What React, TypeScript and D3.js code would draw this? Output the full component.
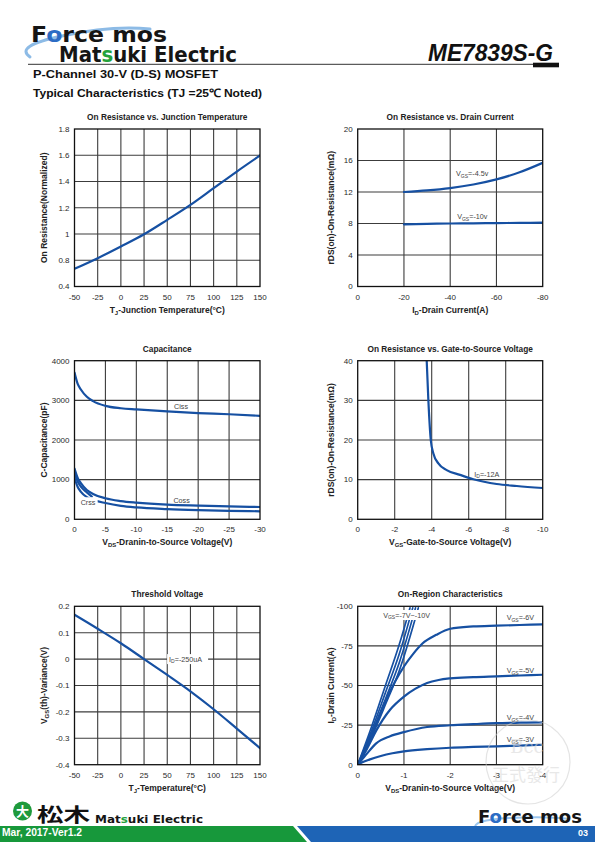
import React from 'react';
import * as d3 from 'd3';

const FONT = "'Liberation Sans', Arial, Helvetica, sans-serif";
const CURVE_BLUE = '#1650a2';
const GRID = '#3c3c3c';
const TEXT = '#2a2a2a';

type Part = [string, boolean?];

// ---------- 1. On Resistance vs. Junction Temperature ----------
const tjTemps = [-50, -25, 0, 25, 50, 75, 100, 125, 150];
const rdsNormalized = [0.735, 0.816, 0.905, 0.998, 1.108, 1.222, 1.349, 1.476, 1.598];
const tempTicks = [-50, -25, 0, 25, 50, 75, 100, 125, 150];
const rdsNormTicks = [0.6, 0.8, 1, 1.2, 1.4, 1.6, 1.8];
const rdsNormTickLabels = ['0.4', '0.8', '1', '1.2', '1.4', '1.6', '1.8'];

// ---------- 2. On Resistance vs. Drain Current ----------
const drainCurrents = [-20, -30, -40, -50, -60, -70, -80];
const rdsAtVgs45 = [12.0, 12.2, 12.5, 12.95, 13.6, 14.5, 15.7];
const rdsAtVgs10 = [7.9, 7.95, 8.0, 8.02, 8.05, 8.08, 8.1];
const drainCurrentTicks = [0, -20, -40, -60, -80];
const rdsIdTicks = [0, 4, 8, 12, 16, 20];

// ---------- 3. Capacitance ----------
const capVds = [0, -0.5, -1, -2, -3, -5, -7.5, -10, -15, -20, -25, -30];
const ciss = [3700, 3420, 3280, 3090, 2980, 2860, 2800, 2770, 2720, 2680, 2650, 2610];
const coss = [1280, 1050, 920, 740, 640, 530, 460, 420, 370, 345, 325, 310];
const crss = [1050, 820, 700, 560, 490, 410, 340, 300, 258, 232, 214, 202];
const crssLeadVds = [0, -0.5, -1, -2, -2.8];
const crssLead = [1180, 960, 830, 680, 570];
const capVdsTicks = [0, -5, -10, -15, -20, -25, -30];
const capTicks = [0, 1000, 2000, 3000, 4000];

// ---------- 4. On Resistance vs. Gate-to-Source Voltage ----------
const gateVoltages = [-3.73, -3.82, -3.95, -4.09, -4.36, -4.81, -5.53, -6.25, -7.51, -8.6, -10];
const rdsVsVgs = [40, 30, 20, 16.6, 14.1, 12.4, 11.2, 10.1, 8.9, 8.4, 7.9];
const gateTicks = [0, -2, -4, -6, -8, -10];
const rdsVgsTicks = [0, 10, 20, 30, 40];

// ---------- 5. Threshold Voltage ----------
const thTemps = [-50, -25, 0, 25, 50, 75, 100, 125, 150];
const vthVariance = [0.168, 0.115, 0.06, 0.0, -0.06, -0.122, -0.19, -0.263, -0.337];
const vthTicks = [-0.4, -0.3, -0.2, -0.1, 0, 0.1, 0.2];

// ---------- 6. On-Region Characteristics ----------
const vds3 = [0, -0.1, -0.25, -0.5, -0.75, -1, -1.5, -2, -2.5, -3, -3.5, -4];
const id3 = [0, -1.5, -3.2, -5.5, -7.2, -8.4, -9.8, -10.7, -11.2, -11.6, -12.1, -12.6];
const vds4 = [0, -0.1, -0.2, -0.4, -0.7, -1, -1.5, -2, -2.5, -3, -3.5, -4];
const id4 = [0, -3.5, -7, -13.5, -18, -20.6, -23.8, -24.9, -25.6, -26.2, -26.5, -26.7];
const vds5 = [0, -0.2, -0.4, -0.7, -1, -1.25, -1.5, -1.75, -2, -2.5, -3, -3.5, -4];
const id5 = [0, -10, -21.5, -34.7, -43, -48, -51.6, -53.5, -54.5, -55.3, -55.8, -56.3, -56.8];
const vds6 = [0, -0.2, -0.4, -0.6, -0.8, -1, -1.2, -1.4, -1.7, -2, -2.5, -3, -3.5, -4];
const id6 = [0, -12, -26, -40, -52, -62, -70, -76.5, -82, -85.8, -87.3, -87.8, -88.2, -88.6];
const vds7 = [0, -0.3, -0.6, -0.9, -1.31];
const id7 = [0, -17.5, -38, -59.5, -99];
const vds8 = [0, -0.3, -0.6, -0.9, -1.25];
const id8 = [0, -19.5, -41.5, -64.5, -99];
const vds9 = [0, -0.3, -0.6, -0.9, -1.19];
const id9 = [0, -21.5, -45.5, -70, -99];
const vds10 = [0, -0.3, -0.6, -0.9, -1.13];
const id10 = [0, -24, -50, -76, -99];
const onVdsTicks = [0, -1, -2, -3, -4];
const onIdTicks = [0, -25, -50, -75, -100];

// ---------- texts ----------
const titles = [
  'On Resistance vs. Junction Temperature',
  'On Resistance vs. Drain Current',
  'Capacitance',
  'On Resistance vs. Gate-to-Source Voltage',
  'Threshold Voltage',
  'On-Region Characteristics',
];
const xLabels: Part[][] = [
  [['T'], ['J', true], ['-Junction Temperature(°C)']],
  [['I'], ['D', true], ['-Drain Current(A)']],
  [['V'], ['DS', true], ['-Dranin-to-Source Voltage(V)']],
  [['V'], ['GS', true], ['-Gate-to-Source Voltage(V)']],
  [['T'], ['J', true], ['-Temperature(°C)']],
  [['V'], ['DS', true], ['-Dranin-to-Source Voltage(V)']],
];
const yLabels: Part[][] = [
  [['On Resistance(Normalized)']],
  [['rDS(on)-On-Resistance(mΩ)']],
  [['C-Capacitance(pF)']],
  [['rDS(on)-On-Resistance(mΩ)']],
  [['V'], ['GS', true], ['(th)-Variance(V)']],
  [['I'], ['D', true], ['-Drain Current(A)']],
];

interface SeriesDef { xs: number[]; ys: number[]; w?: number }
interface NoteDef { x: number; y: number; parts: Part[]; bg?: boolean; w?: number }
interface ChartProps {
  id: string;
  left: number; top: number; width: number; height: number;
  xDomain: [number, number]; yDomain: [number, number];
  xTicks: number[]; yTicks: number[]; yTickLabels?: string[];
  title: string; xLabel: Part[]; yLabel: Part[];
  series: SeriesDef[]; notes?: NoteDef[];
}

function spans(parts: Part[], size: number) {
  let shifted = false;
  return parts.map(([t, sub], i) => {
    let dy: number | undefined;
    if (sub && !shifted) { dy = size * 0.25; shifted = true; }
    else if (!sub && shifted) { dy = -size * 0.25; shifted = false; }
    return (
      <tspan key={i} fontSize={sub ? size * 0.7 : size} dy={dy}>{t}</tspan>
    );
  });
}

function Chart(p: ChartProps) {
  const x = d3.scaleLinear().domain(p.xDomain).range([p.left, p.left + p.width]);
  const y = d3.scaleLinear().domain(p.yDomain).range([p.top + p.height, p.top]);
  const line = d3.line<[number, number]>().x(d => x(d[0])).y(d => y(d[1])).curve(d3.curveMonotoneX);
  const bottom = p.top + p.height;
  const right = p.left + p.width;
  const innerX = p.xTicks.filter(t => t !== p.xDomain[0] && t !== p.xDomain[1]);
  const innerY = p.yTicks.filter(t => t !== p.yDomain[0] && t !== p.yDomain[1]);
  const tickSize = 8;
  const noteSize = 7.2;
  const labelSize = 8.5;
  return (
    <g fontFamily={FONT}>
      <defs>
        <clipPath id={p.id}>
          <rect x={p.left} y={p.top} width={p.width} height={p.height} />
        </clipPath>
      </defs>
      {innerX.map(t => (
        <line key={'gx' + t} x1={x(t)} x2={x(t)} y1={p.top} y2={bottom} stroke={GRID} strokeWidth={1.1} />
      ))}
      {innerY.map(t => (
        <line key={'gy' + t} x1={p.left} x2={right} y1={y(t)} y2={y(t)} stroke={GRID} strokeWidth={1.1} />
      ))}
      <g clipPath={`url(#${p.id})`}>
        {p.series.map((s, i) => (
          <path key={i} d={line(s.xs.map((v, j) => [v, s.ys[j]] as [number, number])) || ''}
            fill="none" stroke={CURVE_BLUE} strokeWidth={s.w || 2.2} strokeLinejoin="round" strokeLinecap="round" />
        ))}
      </g>
      {(p.notes || []).map((n, i) => {
        const nx = x(n.x);
        const ny = y(n.y);
        return (
          <g key={'n' + i}>
            {n.bg && <rect x={nx - 2} y={ny - 5} width={(n.w || 40) + 4} height={10} fill="#fff" />}
            <text x={nx} y={ny + noteSize * 0.36} fontSize={noteSize} fill="#444">{spans(n.parts, noteSize)}</text>
          </g>
        );
      })}
      <rect x={p.left} y={p.top} width={p.width} height={p.height} fill="none" stroke="#111" strokeWidth={1.3} />
      {p.xTicks.map(t => (
        <text key={'tx' + t} x={x(t)} y={bottom + 13} fontSize={tickSize} fill={TEXT} textAnchor="middle">{String(t)}</text>
      ))}
      {p.yTicks.map((t, i) => (
        <text key={'ty' + t} x={p.left - 5} y={y(t) + 2.8} fontSize={tickSize} fill={TEXT} textAnchor="end">
          {p.yTickLabels ? p.yTickLabels[i] : String(t)}
        </text>
      ))}
      <text x={(p.left + right) / 2} y={p.top - 9} fontSize={8.3} fontWeight="bold" fill="#222" textAnchor="middle">{p.title}</text>
      <text x={(p.left + right) / 2} y={bottom + 26} fontSize={labelSize} fontWeight="bold" fill="#222" textAnchor="middle">
        {spans(p.xLabel, labelSize)}
      </text>
      <text transform={`translate(${p.left - (p.left < 200 ? 28 : 24)},${(p.top + bottom) / 2}) rotate(-90)`}
        fontSize={labelSize} fontWeight="bold" fill="#222" textAnchor="middle">
        {spans(p.yLabel, labelSize)}
      </text>
    </g>
  );
}

const vgsNote = (v: string): Part[] => [['V'], ['GS', true], ['=' + v]];

export default function App() {
  const L = 74.5, R = 357.7, WL = 185.5, WR = 185;
  const T1 = 129, H1 = 157.5, T2 = 360.7, H2 = 158.6, T3 = 606.3, H3 = 158.4;
  return (
    <svg width={595} height={842} viewBox="0 0 595 842"
      style={{ position: 'absolute', left: 0, top: 0, background: '#fff' }} fontFamily={FONT}>
      <rect width={595} height={842} fill="#fff" />

      {/* ---------- header ---------- */}
      <path d="M 30 57 Q 14 46 62 36 Q 112 25 150 29" fill="none" stroke="#8dbbe6" strokeWidth={3} strokeLinecap="round" />
      <text x={31} y={42} fontSize={22} fontWeight="bold" fill="#151515" textLength={136} lengthAdjust="spacingAndGlyphs"
        fontFamily="'DejaVu Sans', sans-serif">
        F<tspan fill="#2c6cc4">o</tspan>rce mos
      </text>
      <text x={59} y={61.5} fontSize={21} fontWeight="bold" fill="#151515" textLength={178} lengthAdjust="spacingAndGlyphs"
        fontFamily="'DejaVu Sans', sans-serif">
        Mat<tspan fill="#24a23c">s</tspan>uki Electric
      </text>
      <text x={428} y={60.7} fontSize={23} fontWeight="bold" fontStyle="italic" fill="#111" textLength={125} lengthAdjust="spacingAndGlyphs">
        ME7839S-G
      </text>
      <line x1={28} x2={533} y1={64.3} y2={64.3} stroke="#333" strokeWidth={1} />
      <rect x={533} y={62.7} width={26} height={4.6} fill="#111" />
      <text x={33} y={77.5} fontSize={11.5} fontWeight="bold" fill="#111" textLength={185} lengthAdjust="spacingAndGlyphs">
        P-Channel 30-V (D-S) MOSFET
      </text>
      <text x={33} y={97} fontSize={11.5} fontWeight="bold" fill="#111" textLength={229} lengthAdjust="spacingAndGlyphs">
        Typical Characteristics (TJ =25℃ Noted)
      </text>

      {/* ---------- charts ---------- */}
      <Chart id="c1" left={L} top={T1} width={WL} height={H1}
        xDomain={[-50, 150]} yDomain={[0.6, 1.8]} xTicks={tempTicks} yTicks={rdsNormTicks} yTickLabels={rdsNormTickLabels}
        title={titles[0]} xLabel={xLabels[0]} yLabel={yLabels[0]}
        series={[{ xs: tjTemps, ys: rdsNormalized }]} />

      <Chart id="c2" left={R} top={T1} width={WR} height={H1}
        xDomain={[0, -80]} yDomain={[0, 20]} xTicks={drainCurrentTicks} yTicks={rdsIdTicks}
        title={titles[1]} xLabel={xLabels[1]} yLabel={yLabels[1]}
        series={[{ xs: drainCurrents, ys: rdsAtVgs45 }, { xs: drainCurrents, ys: rdsAtVgs10 }]}
        notes={[
          { x: -42.5, y: 14.3, parts: vgsNote('-4.5v') },
          { x: -43, y: 8.85, parts: vgsNote('-10v') },
        ]} />

      <Chart id="c3" left={L} top={T2} width={WL} height={H2}
        xDomain={[0, -30]} yDomain={[0, 4000]} xTicks={capVdsTicks} yTicks={capTicks}
        title={titles[2]} xLabel={xLabels[2]} yLabel={yLabels[2]}
        series={[
          { xs: capVds, ys: ciss },
          { xs: capVds, ys: coss },
          { xs: capVds, ys: crss },
          { xs: crssLeadVds, ys: crssLead },
        ]}
        notes={[
          { x: -16.1, y: 2857, parts: [['Ciss']] },
          { x: -16, y: 470, parts: [['Coss']] },
          { x: -1.0, y: 430, parts: [['Crss']], bg: true, w: 15 },
        ]} />

      <Chart id="c4" left={R} top={T2} width={WR} height={H2}
        xDomain={[0, -10]} yDomain={[0, 40]} xTicks={gateTicks} yTicks={rdsVgsTicks}
        title={titles[3]} xLabel={xLabels[3]} yLabel={yLabels[1]}
        series={[{ xs: gateVoltages, ys: rdsVsVgs }]}
        notes={[{ x: -6.3, y: 11.4, parts: [['I'], ['D', true], ['=-12A']] }]} />

      <Chart id="c5" left={L} top={T3} width={WL} height={H3}
        xDomain={[-50, 150]} yDomain={[-0.4, 0.2]} xTicks={tempTicks} yTicks={vthTicks}
        title={titles[4]} xLabel={xLabels[4]} yLabel={yLabels[4]}
        series={[{ xs: thTemps, ys: vthVariance }]}
        notes={[{ x: 52, y: 0, parts: [['I'], ['D', true], ['=-250uA']], bg: true, w: 37 }]} />

      <Chart id="c6" left={R} top={T3} width={WR} height={H3}
        xDomain={[0, -4]} yDomain={[0, -100]} xTicks={onVdsTicks} yTicks={onIdTicks}
        title={titles[5]} xLabel={xLabels[5]} yLabel={yLabels[5]}
        series={[
          { xs: vds3, ys: id3 }, { xs: vds4, ys: id4 }, { xs: vds5, ys: id5 }, { xs: vds6, ys: id6 },
          { xs: vds7, ys: id7, w: 1.7 }, { xs: vds8, ys: id8, w: 1.7 }, { xs: vds9, ys: id9, w: 1.7 }, { xs: vds10, ys: id10, w: 1.7 },
        ]}
        notes={[
          { x: -0.55, y: -94.5, parts: vgsNote('-7V~-10V'), bg: true, w: 49 },
          { x: -3.22, y: -93, parts: vgsNote('-6V') },
          { x: -3.22, y: -59.6, parts: vgsNote('-5V') },
          { x: -3.22, y: -29.9, parts: vgsNote('-4V') },
          { x: -3.22, y: -15.8, parts: vgsNote('-3V') },
        ]} />

      {/* watermark */}
      <g opacity={0.55}>
        <circle cx={528} cy={762} r={42} fill="none" stroke="#cfcfcf" strokeWidth={1.2} />
        <text x={527} y={753} fontSize={18} fontFamily="'DejaVu Serif', serif" fill="#d6d6d6" textAnchor="middle">Bcc</text>
        <text x={526} y={781} fontSize={17} fontFamily="'Noto Sans CJK TC', sans-serif" fill="#d6d6d6" textAnchor="middle">正式發行</text>
      </g>

      {/* ---------- footer ---------- */}
      <circle cx={22.5} cy={811} r={9.5} fill="#1e9a3c" />
      <text x={22.5} y={816} fontSize={13} fontWeight="bold" fill="#fff" textAnchor="middle"
        fontFamily="'Noto Sans CJK JP', sans-serif">大</text>
      <text x={37} y={822} fontSize={19} fontWeight="bold" fill="#111" textLength={53} lengthAdjust="spacingAndGlyphs"
        fontFamily="'Noto Sans CJK JP', sans-serif">松木</text>
      <text x={95} y={823} fontSize={11} fontWeight="bold" fill="#151515" textLength={108} lengthAdjust="spacingAndGlyphs"
        fontFamily="'DejaVu Sans', sans-serif">
        Mat<tspan fill="#24a23c">s</tspan>uki Electric
      </text>
      <path d="M 476 829 Q 470 820 510 818 Q 545 816 570 819" fill="none" stroke="#9cc6ee" strokeWidth={2} />
      <text x={478} y={823} fontSize={18} fontWeight="bold" fill="#151515" textLength={104} lengthAdjust="spacingAndGlyphs"
        fontFamily="'DejaVu Sans', sans-serif">
        F<tspan fill="#2c6cc4">o</tspan>rce mos
      </text>
      <polygon points="0,826 293,826 307,842 0,842" fill="#17983b" />
      <polygon points="297,826 595,826 595,842 311,842" fill="#1e64b6" />
      <text x={2} y={836} fontSize={10} fontWeight="bold" fill="#fff" textLength={80} lengthAdjust="spacingAndGlyphs">
        Mar, 2017-Ver1.2
      </text>
      <text x={578} y={836} fontSize={9} fontWeight="bold" fill="#fff">03</text>
    </svg>
  );
}
